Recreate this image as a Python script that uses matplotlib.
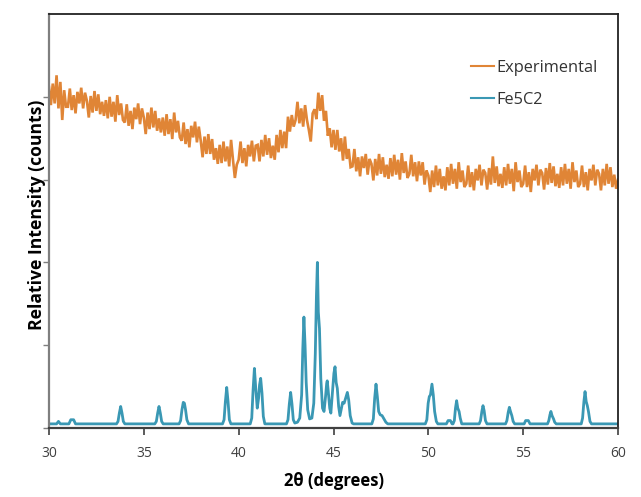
import numpy as np
import matplotlib
matplotlib.use("Agg")
import matplotlib.pyplot as plt

# ---- data -------------------------------------------------------------
x_start = 30.0
x_step = 0.1
experimental = [
    4.12, 3.90, 4.16, 3.92, 4.26, 3.86, 4.18, 3.72, 4.08, 3.88,
    3.88, 4.10, 3.84, 4.02, 3.80, 4.06, 3.92, 4.11, 3.86, 4.05,
    3.95, 3.75, 4.01, 3.81, 4.07, 3.83, 4.03, 3.79, 3.94, 3.77,
    3.96, 3.74, 4.00, 3.76, 3.94, 3.70, 4.02, 3.78, 3.92, 3.72,
    3.69, 3.91, 3.65, 3.83, 3.61, 3.87, 3.73, 3.92, 3.67, 3.86,
    3.75, 3.55, 3.81, 3.61, 3.87, 3.63, 3.83, 3.59, 3.74, 3.57,
    3.75, 3.53, 3.79, 3.55, 3.73, 3.49, 3.81, 3.57, 3.71, 3.51,
    3.47, 3.69, 3.43, 3.61, 3.39, 3.65, 3.51, 3.70, 3.45, 3.64,
    3.47, 3.27, 3.52, 3.31, 3.55, 3.31, 3.49, 3.24, 3.38, 3.19,
    3.42, 3.20, 3.46, 3.22, 3.40, 3.16, 3.48, 3.24, 3.02, 3.18,
    3.24, 3.46, 3.20, 3.38, 3.16, 3.42, 3.28, 3.47, 3.22, 3.41,
    3.42, 3.22, 3.48, 3.28, 3.54, 3.30, 3.50, 3.26, 3.41, 3.24,
    3.54, 3.33, 3.60, 3.38, 3.58, 3.38, 3.76, 3.58, 3.78, 3.64,
    3.72, 3.94, 3.68, 3.86, 3.64, 3.90, 3.72, 3.60, 3.46, 3.80,
    3.85, 3.73, 4.05, 3.83, 4.02, 3.71, 3.83, 3.53, 3.62, 3.39,
    3.60, 3.36, 3.60, 3.34, 3.50, 3.23, 3.52, 3.25, 3.37, 3.15,
    3.16, 3.37, 3.10, 3.27, 3.04, 3.28, 3.14, 3.31, 3.06, 3.25,
    3.19, 2.99, 3.25, 3.05, 3.31, 3.07, 3.27, 3.03, 3.18, 3.01,
    3.26, 3.04, 3.30, 3.06, 3.24, 3.00, 3.32, 3.08, 3.22, 3.02,
    3.07, 3.30, 3.04, 3.21, 2.98, 3.22, 3.05, 3.21, 2.94, 3.11,
    3.05, 2.85, 3.11, 2.91, 3.17, 2.93, 3.13, 2.89, 3.04, 2.87,
    3.15, 2.93, 3.19, 2.95, 3.13, 2.89, 3.21, 2.97, 3.11, 2.91,
    2.95, 3.17, 2.91, 3.09, 2.87, 3.13, 2.99, 3.18, 2.93, 3.12,
    3.08, 2.88, 3.14, 2.94, 3.28, 2.96, 3.16, 2.92, 3.07, 2.90,
    3.15, 2.93, 3.19, 2.95, 3.13, 2.86, 3.21, 2.97, 3.11, 2.91,
    2.95, 3.17, 2.91, 3.09, 2.85, 3.13, 2.99, 3.18, 2.93, 3.12,
    3.08, 2.88, 3.14, 2.94, 3.20, 2.96, 3.16, 2.92, 3.07, 2.90,
    3.15, 2.93, 3.19, 2.95, 3.13, 2.89, 3.21, 2.97, 3.11, 2.91,
    2.95, 3.17, 2.91, 3.09, 2.87, 3.13, 2.99, 3.18, 2.93, 3.12,
    3.07, 2.87, 3.13, 2.93, 3.19, 2.95, 3.15, 2.91, 3.06, 2.89,
    3.00,
]

fe5c2_x = [
    30.0, 30.4, 30.5, 30.6,
    31.05, 31.15, 31.3, 31.4,
    33.56, 33.64, 33.71, 33.78, 33.85, 33.92, 34.0,
    35.58, 35.66, 35.73, 35.80, 35.87, 35.94, 36.02,
    36.86, 36.94, 37.01, 37.08, 37.14, 37.2, 37.27, 37.36,
    39.15, 39.23, 39.30, 39.37, 39.44, 39.51, 39.59,
    40.61, 40.69, 40.76, 40.83, 40.90, 40.98, 41.05, 41.10, 41.16, 41.23,
    41.30, 41.38,
    42.52, 42.60, 42.67, 42.74, 42.81, 42.88, 42.96,
    43.10, 43.22, 43.32, 43.38, 43.44, 43.50, 43.56, 43.64, 43.74, 43.86,
    43.96, 44.04, 44.10, 44.15, 44.20, 44.26, 44.33, 44.42, 44.50, 44.58,
    44.64, 44.67, 44.72, 44.80, 44.86, 44.94, 45.02, 45.08, 45.14, 45.20,
    45.27, 45.34, 45.42, 45.48, 45.56, 45.64, 45.73, 45.80, 45.88, 45.98,
    46.06,
    47.02, 47.10, 47.17, 47.24, 47.31, 47.38, 47.46, 47.56, 47.66, 47.76,
    47.86,
    49.84, 49.92, 49.99, 50.05, 50.11, 50.19, 50.26, 50.33, 50.42, 50.50,
    50.95, 51.04, 51.16, 51.25,
    51.30, 51.37, 51.43, 51.49, 51.55, 51.62, 51.68, 51.76,
    52.68, 52.75, 52.82, 52.88, 52.94, 53.01, 53.09,
    54.07, 54.14, 54.21, 54.27, 54.33, 54.40, 54.47, 54.55,
    55.05, 55.13, 55.27, 55.36,
    56.28, 56.35, 56.41, 56.46, 56.52, 56.60, 56.66, 56.74,
    58.06, 58.13, 58.20, 58.26, 58.32, 58.38, 58.44, 58.52, 58.60,
    60.0,
]
fe5c2_y = [
    0.05, 0.05, 0.08, 0.05,
    0.05, 0.10, 0.10, 0.05,
    0.05, 0.08, 0.18, 0.26, 0.18, 0.08, 0.05,
    0.05, 0.08, 0.18, 0.26, 0.18, 0.08, 0.05,
    0.05, 0.09, 0.22, 0.31, 0.30, 0.22, 0.10, 0.05,
    0.05, 0.10, 0.32, 0.49, 0.32, 0.10, 0.05,
    0.05, 0.12, 0.46, 0.72, 0.48, 0.24, 0.36, 0.52, 0.60, 0.42,
    0.14, 0.05,
    0.05, 0.10, 0.29, 0.43, 0.29, 0.10, 0.06,
    0.07, 0.12, 0.40, 0.95, 1.34, 1.00, 0.55, 0.22, 0.11, 0.12,
    0.30, 0.90, 1.60, 2.00, 1.40, 1.20, 0.60, 0.24, 0.20, 0.38,
    0.54, 0.57, 0.45, 0.24, 0.18, 0.42, 0.66, 0.74, 0.55, 0.48,
    0.26, 0.15, 0.24, 0.31, 0.30, 0.36, 0.43, 0.34, 0.15, 0.06,
    0.05,
    0.05, 0.11, 0.36, 0.53, 0.38, 0.20, 0.16, 0.15, 0.11, 0.07,
    0.05,
    0.05, 0.10, 0.30, 0.38, 0.40, 0.53, 0.40, 0.20, 0.08, 0.05,
    0.05, 0.09, 0.09, 0.05,
    0.05, 0.09, 0.24, 0.33, 0.24, 0.20, 0.12, 0.05,
    0.05, 0.09, 0.20, 0.27, 0.21, 0.09, 0.05,
    0.05, 0.09, 0.19, 0.25, 0.20, 0.15, 0.08, 0.05,
    0.05, 0.09, 0.09, 0.05,
    0.05, 0.09, 0.16, 0.20, 0.15, 0.11, 0.07, 0.05,
    0.05, 0.12, 0.32, 0.44, 0.32, 0.27, 0.20, 0.08, 0.05,
    0.05,
]

x_ticks = [30, 35, 40, 45, 50, 55, 60]
y_ticks = [0, 1, 2, 3, 4]
series_names = ["Experimental", "Fe5C2"]

# ---- plot -------------------------------------------------------------
plt.rcParams['font.family'] = ['Open Sans', 'DejaVu Sans']

fig = plt.figure(figsize=(6.41, 4.97), dpi=100)
ax = fig.add_axes([0.0764, 0.1388, 0.8878, 0.8330])

exp_x = x_start + x_step * np.arange(len(experimental))
ax.plot(exp_x, experimental, color='#E08536', lw=1.9, label=series_names[0],
        solid_joinstyle='miter')
ax.plot(fe5c2_x, fe5c2_y, color='#3A98B4', lw=2.0, label=series_names[1],
        solid_joinstyle='round')

ax.set_xlim(30, 60)
ax.set_ylim(0, 5)
ax.set_xticks(x_ticks)
ax.set_yticks(y_ticks)
ax.set_yticklabels([])
ax.tick_params(axis='x', direction='out', length=5, width=1.2,
               colors='#404040', labelsize=10, pad=8)
ax.tick_params(axis='y', direction='out', length=4, width=1.0,
               colors='#7f7f7f')

for side in ['left', 'bottom']:
    ax.spines[side].set_color('#7f7f7f')
    ax.spines[side].set_linewidth(1.6)
for side in ['top', 'right']:
    ax.spines[side].set_color('#222222')
    ax.spines[side].set_linewidth(1.3)
ax.spines['bottom'].set_color('#404040')

ax.set_xlabel('2θ (degrees)', fontsize=12, fontweight='bold', labelpad=8)
ax.set_ylabel('Relative Intensity (counts)', fontsize=12.6, fontweight='bold')
ax.yaxis.set_label_coords(-0.005, 0.514)

leg = ax.legend(loc='upper left', bbox_to_anchor=(0.716, 0.925), frameon=False,
                handlelength=1.4, handletextpad=0.15, labelspacing=1.0,
                fontsize=11.8)
for line in leg.get_lines():
    line.set_linewidth(1.5)
for t in leg.get_texts():
    t.set_color('#333333')

fig.savefig('out.png', dpi=100)
